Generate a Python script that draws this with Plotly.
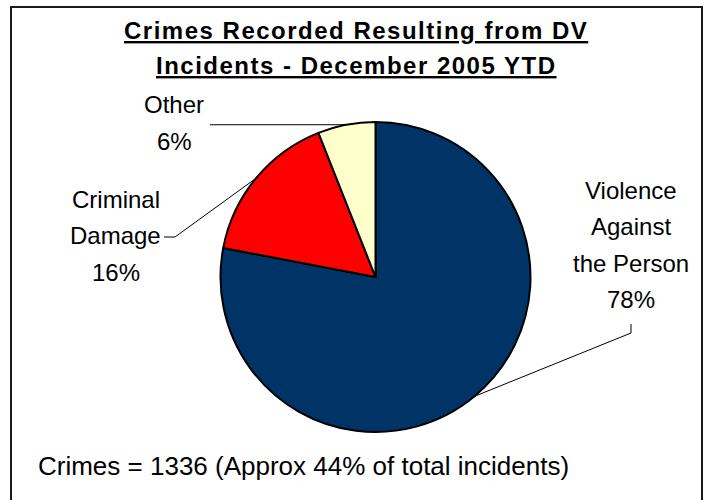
import math
import plotly.graph_objects as go

# ---- data ----
categories = ["Violence Against the Person", "Criminal Damage", "Other"]
shares = [78, 16, 6]
label_lines = [["Violence", "Against", "the Person"], ["Criminal", "Damage"], ["Other"]]
colors = ["#003366", "#FF0000", "#FFFFCC"]
title_lines = ["Crimes Recorded Resulting from DV", "Incidents - December 2005 YTD"]
footer_text = "Crimes = 1336 (Approx 44% of total incidents)"

# ---- layout helpers (pixel -> paper) ----
W, H = 708, 500
def px(x):
    return x / W
def py(y):
    return 1 - y / H

FONT = "Liberation Sans, Arial, sans-serif"
cx, cy, R = 375.5, 277, 155

fig = go.Figure(go.Pie(
    labels=categories,
    values=shares,
    sort=False,
    direction="clockwise",
    rotation=0,
    marker=dict(colors=colors, line=dict(color="black", width=2)),
    textinfo="none",
    hoverinfo="label+percent",
    showlegend=False,
    domain=dict(x=[px(cx - R), px(cx + R)], y=[py(cy + R), py(cy - R)]),
))

# label placement (layout only): text centre x, first line y, leader path points
label_layout = [
    dict(x=631, y0=190, path=[(631, 324), (631, 333)]),
    dict(x=116, y0=199, path=[(164, 237), (175, 237)]),
    dict(x=174, y0=105, path=None),
]
LINE_GAP = 36.5

annotations = []
shapes = []
total = sum(shares)
cum = 0
for name_lines, share, lay in zip(label_lines, shares, label_layout):
    mid = (cum + share / 2) / total * 2 * math.pi
    cum += share
    ex = cx + R * math.sin(mid)
    ey = cy - R * math.cos(mid)
    lines = name_lines + [f"{share}%"]
    for i, t in enumerate(lines):
        annotations.append(dict(
            x=px(lay["x"]), y=py(lay["y0"] + i * LINE_GAP), xref="paper", yref="paper",
            text=t, showarrow=False, xanchor="center", yanchor="middle",
            font=dict(family=FONT, size=24, color="black"),
        ))
    if lay["path"] is None:
        pts = [(210, ey), (ex, ey)]
    else:
        pts = lay["path"] + [(ex, ey)]
    d = "M " + " L ".join(f"{px(a)},{py(b)}" for a, b in pts)
    shapes.append(dict(type="path", xref="paper", yref="paper", path=d,
                       line=dict(color="black", width=1)))

# title lines
for i, t in enumerate(title_lines):
    annotations.append(dict(
        x=px(356), y=py(30 + i * 35), xref="paper", yref="paper",
        text=f"<u><b><span style='letter-spacing:1.5px'>{t}</span></b></u>",
        showarrow=False, xanchor="center", yanchor="middle",
        font=dict(family=FONT, size=24, color="black"),
    ))

# footer
annotations.append(dict(
    x=px(36), y=py(466), xref="paper", yref="paper", text=footer_text,
    showarrow=False, xanchor="left", yanchor="middle",
    font=dict(family=FONT, size=26, color="black"),
))

# outer frame
shapes.append(dict(type="rect", xref="paper", yref="paper",
                   x0=px(11), x1=px(702), y0=py(515), y1=py(7),
                   line=dict(color="#1a1a1a", width=2), fillcolor="rgba(0,0,0,0)"))

fig.update_layout(
    width=W, height=H,
    margin=dict(l=0, r=0, t=0, b=0),
    paper_bgcolor="white",
    plot_bgcolor="white",
    annotations=annotations,
    shapes=shapes,
)

fig.write_html("out.html", config={"displayModeBar": False},
               post_script="document.body.style.margin='0';")
